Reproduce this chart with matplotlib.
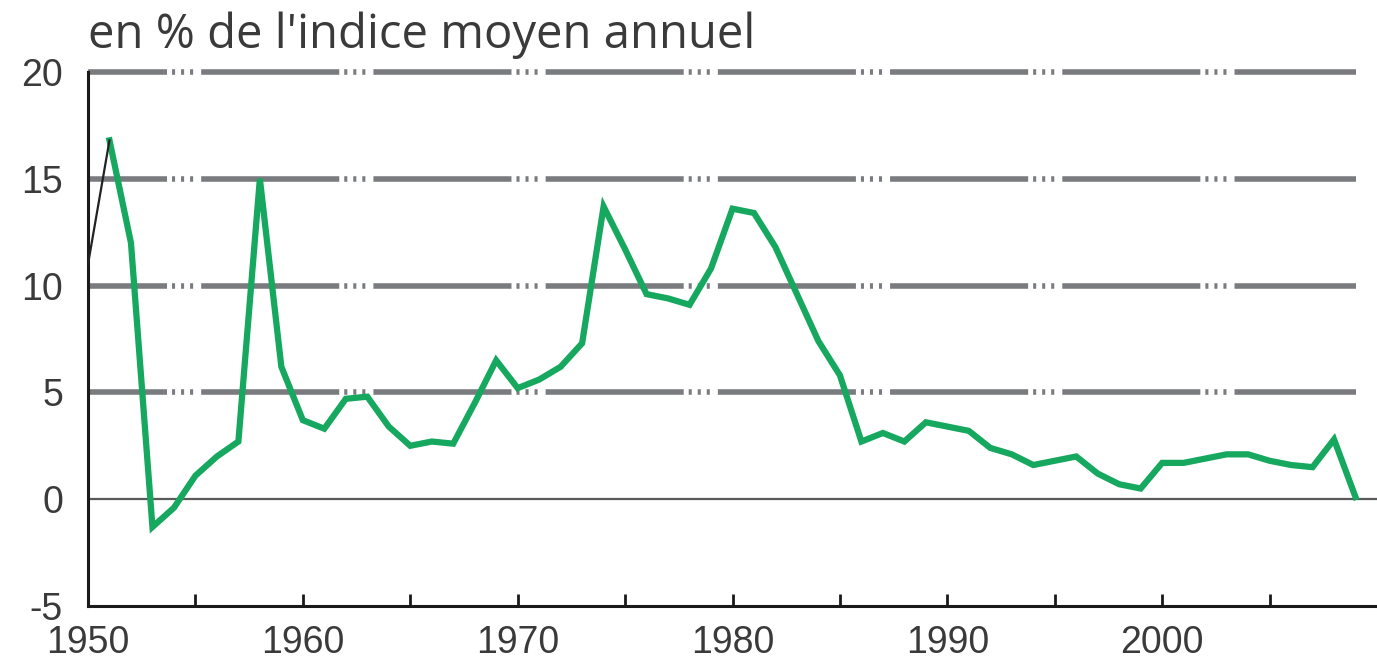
import matplotlib
matplotlib.use("Agg")
import matplotlib.pyplot as plt

# inflation annuelle, en % de l'indice moyen annuel
years = list(range(1950, 2010))
values = [11.0, 16.8, 12.0, -1.3, -0.4, 1.1, 2.0, 2.7, 15.0, 6.2,
          3.7, 3.3, 4.7, 4.8, 3.4, 2.5, 2.7, 2.6, 4.5, 6.5,
          5.2, 5.6, 6.2, 7.3, 13.7, 11.7, 9.6, 9.4, 9.1, 10.8,
          13.6, 13.4, 11.8, 9.6, 7.4, 5.8, 2.7, 3.1, 2.7, 3.6,
          3.4, 3.2, 2.4, 2.1, 1.6, 1.8, 2.0, 1.2, 0.7, 0.5,
          1.7, 1.7, 1.9, 2.1, 2.1, 1.8, 1.6, 1.5, 2.8, 0.1]
grid_levels = [5, 10, 15, 20]
y_ticks = [-5, 0, 5, 10, 15, 20]
x_ticks = list(range(1950, 2010, 5))
x_labels = ["1950", "", "1960", "", "1970", "", "1980", "", "1990", "", "2000", ""]

plt.rcParams['font.family'] = ['Liberation Sans', 'DejaVu Sans']
plt.rcParams['lines.scale_dashes'] = False
plt.rcParams['axes.unicode_minus'] = False
txt = '#3a3a3a'

fig = plt.figure(figsize=(13.77, 6.61), dpi=100)
ax = fig.add_axes([88 / 1377, 1 - 606 / 661, 1 - 88 / 1377, (606 - 72) / 661])

# grille : tiret long puis trois points
dash = (42.5, (99.4, 3.6, 2.2, 4.3, 2.2, 4.3, 2.2, 5.8))
ax.hlines(grid_levels, years[0], years[-1], colors='#797b7f', linewidth=4,
          linestyles=[dash], capstyle='butt', zorder=1, clip_on=False)
ax.axhline(0, color='#5a5a5a', linewidth=1.6, zorder=1)

ax.plot(years[:2], values[:2], color='#222222', linewidth=1.6, zorder=3)
ax.plot(years[1:], values[1:], color='#16a85f', linewidth=4.5,
        solid_joinstyle='miter', zorder=2)

ax.set_xlim(1950, 2010)
ax.set_ylim(-5, 20)
ax.set_yticks(y_ticks)
ax.set_xticks(x_ticks)
ax.set_xticklabels(x_labels)

for s in ['top', 'right']:
    ax.spines[s].set_visible(False)
for s in ['left', 'bottom']:
    ax.spines[s].set_linewidth(2.2)
    ax.spines[s].set_color('#1a1a1a')

ax.tick_params(axis='x', direction='in', length=9, width=2, color='#1a1a1a',
               labelsize=27, labelcolor=txt, pad=14)
ax.tick_params(axis='y', length=0, labelsize=27, labelcolor=txt, pad=18)

fig.text(88 / 1377, 1 - 48 / 661, "en % de l'indice moyen annuel",
         fontsize=34, color=txt, va='baseline', ha='left',
         family=['Open Sans', 'DejaVu Sans'])

fig.savefig('out.png', dpi=100)
